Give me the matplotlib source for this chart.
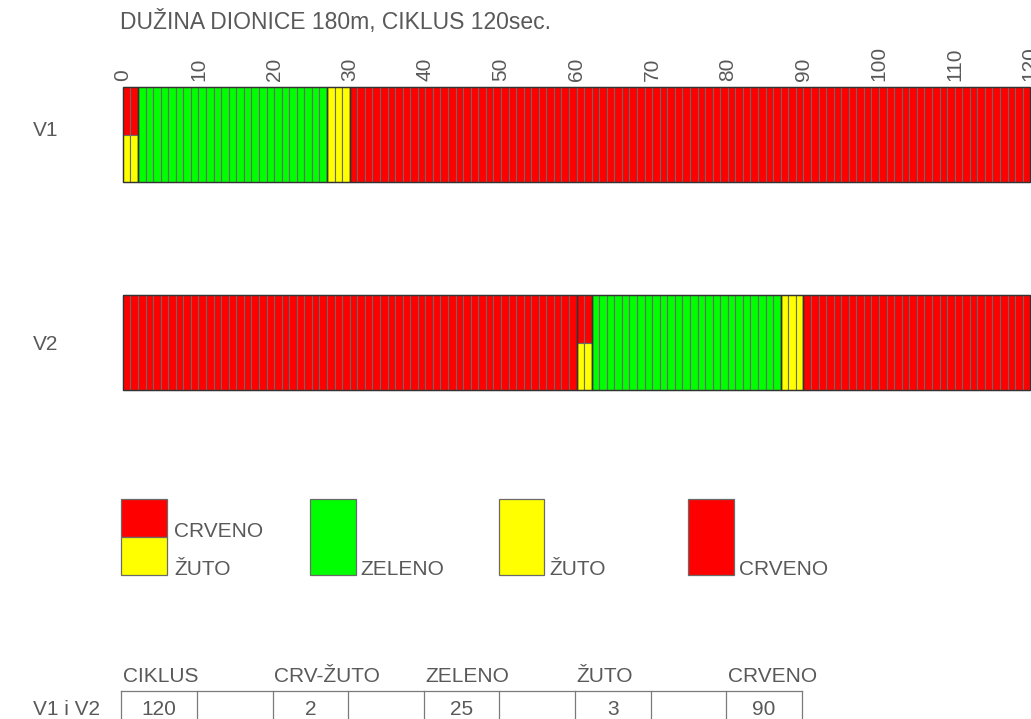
import matplotlib.pyplot as plt

plt.rcParams['font.family'] = ['Liberation Sans', 'DejaVu Sans']

TITLE = "DUŽINA DIONICE 180m, CIKLUS 120sec."
CYCLE = 120
PHASE_NAMES = ["CRV-ŽUTO", "ZELENO", "ŽUTO", "CRVENO"]
PHASE_SECONDS = [2, 25, 3, 90]
ROW_LABELS = ["V1", "V2"]
ROW_OFFSETS = [0, 60]
TICKS = list(range(0, 121, 10))
LEGEND_LABELS = ["CRVENO\nŽUTO", "ZELENO", "ŽUTO", "CRVENO"]
TABLE_HEADERS = ["CIKLUS", "CRV-ŽUTO", "ZELENO", "ŽUTO", "CRVENO"]
TABLE_VALUES = [120, 2, 25, 3, 90]
TABLE_ROW = "V1 i V2"

RED = "#ff0000"
GREEN = "#00ff00"
YELLOW = "#ffff00"
TXT = "#595959"
CELL_EDGE = "#6a6a6a"
PHASE_COLORS = {"CRV-ŽUTO": (RED, YELLOW), "ZELENO": (GREEN,), "ŽUTO": (YELLOW,), "CRVENO": (RED,)}
FS = 15

fig = plt.figure(figsize=(10.31, 7.19), dpi=100)
ax = fig.add_axes([0, 0, 1, 1])
ax.set_xlim(-16.25, 120.1)
ax.set_ylim(719, 0)
ax.axis("off")

ax.text(-0.4, 29.5, TITLE, fontsize=16.5, color=TXT, ha="left", va="baseline")
for t in TICKS:
    ax.text(t, 81, str(t), fontsize=FS, color=TXT, rotation=90, ha="center", va="bottom")


def phase_at(sec):
    acc = 0
    for name, dur in zip(PHASE_NAMES, PHASE_SECONDS):
        if sec < acc + dur:
            return name
        acc += dur
    return PHASE_NAMES[-1]


row_tops = [87, 295]
label_base = [136, 350]
row_h = 95
for label, offset, top, lb in zip(ROW_LABELS, ROW_OFFSETS, row_tops, label_base):
    ax.text(-11.9, lb, label, fontsize=FS, color=TXT, ha="left", va="baseline")
    for t in range(CYCLE):
        cols = PHASE_COLORS[phase_at((t - offset) % CYCLE)]
        if len(cols) == 2:
            ax.bar(t, row_h / 2, width=1, bottom=top, align="edge", color=cols[0],
                   edgecolor=CELL_EDGE, linewidth=0.8)
            ax.bar(t, row_h / 2, width=1, bottom=top + row_h / 2, align="edge", color=cols[1],
                   edgecolor=CELL_EDGE, linewidth=0.8)
        else:
            ax.bar(t, row_h, width=1, bottom=top, align="edge", color=cols[0],
                   edgecolor=CELL_EDGE, linewidth=0.8)
    # outline each phase block
    start = offset
    for name, dur in zip(PHASE_NAMES, PHASE_SECONDS):
        s = start % CYCLE
        pieces = [(s, min(dur, CYCLE - s))]
        if s + dur > CYCLE:
            pieces.append((0, s + dur - CYCLE))
        for ps, pd in pieces:
            ax.bar(ps, row_h, width=pd, bottom=top, align="edge", fill=False,
                   edgecolor="#333333", linewidth=1.0)
        start += dur

# legend
leg_x = [-0.2, 24.8, 49.7, 74.8]
leg_top, leg_h, leg_w = 499, 76, 6.0
for i, (lx, lab) in enumerate(zip(leg_x, LEGEND_LABELS)):
    cols = PHASE_COLORS[PHASE_NAMES[i]]
    if len(cols) == 2:
        ax.bar(lx, leg_h / 2, width=leg_w, bottom=leg_top, align="edge", color=cols[0],
               edgecolor=CELL_EDGE, linewidth=0.9)
        ax.bar(lx, leg_h / 2, width=leg_w, bottom=leg_top + leg_h / 2, align="edge", color=cols[1],
               edgecolor=CELL_EDGE, linewidth=0.9)
        top_lab, bot_lab = lab.split("\n")
        ax.text(lx + leg_w + 0.95, leg_top + leg_h / 2, top_lab, fontsize=FS, color=TXT,
                ha="left", va="baseline")
        ax.text(lx + leg_w + 0.95, leg_top + leg_h, bot_lab, fontsize=FS, color=TXT,
                ha="left", va="baseline")
    else:
        ax.bar(lx, leg_h, width=leg_w, bottom=leg_top, align="edge", color=cols[0],
               edgecolor=CELL_EDGE, linewidth=0.9)
        ax.text(lx + leg_w + 0.65, leg_top + leg_h, lab, fontsize=FS, color=TXT,
                ha="left", va="baseline")

# table
tab_top = 691
cell_w = 10
x0 = -0.2
n_cells = 2 * len(TABLE_VALUES) - 1
ax.plot([x0, x0 + n_cells * cell_w], [tab_top, tab_top], color="#7a7a7a", linewidth=0.9)
for k in range(n_cells + 1):
    xx = x0 + k * cell_w
    ax.plot([xx, xx], [tab_top, 730], color="#7a7a7a", linewidth=0.9)
for j, (h, v) in enumerate(zip(TABLE_HEADERS, TABLE_VALUES)):
    cx = x0 + 2 * j * cell_w
    ax.text(cx + 0.2, 682, h, fontsize=FS, color=TXT, ha="left", va="baseline")
    ax.text(cx + cell_w / 2, 715, str(v), fontsize=FS, color=TXT, ha="center", va="baseline")
ax.text(-11.9, 715, TABLE_ROW, fontsize=FS, color=TXT, ha="left", va="baseline")

fig.savefig("out.png", dpi=100)
